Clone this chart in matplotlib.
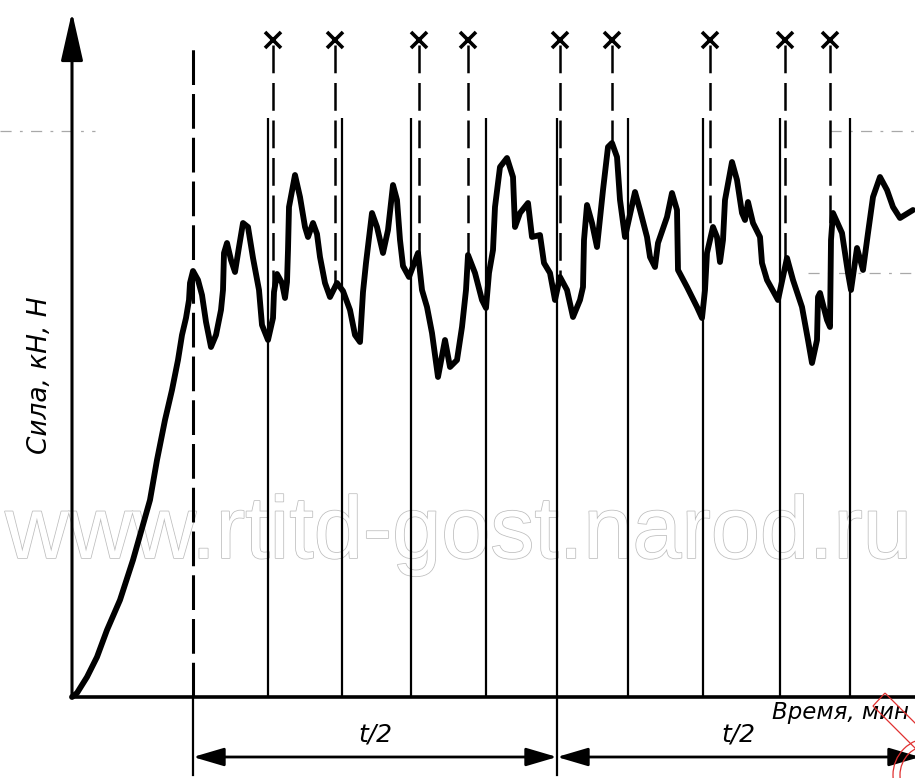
import numpy as np
import matplotlib
matplotlib.use("Agg")
import matplotlib.pyplot as plt
from matplotlib.patches import FancyArrowPatch, Circle, Polygon
import matplotlib.patheffects as pe

plt.rcParams["lines.scale_dashes"] = False

# ---- data (time, force in drawing units) ----
time = [0.0, 0.5, 1.5, 2.5, 3.5, 4.8, 6.1, 7.8, 8.5, 9.3, 10.0, 10.6, 11.0, 11.4, 11.7, 11.8,
        12.1, 12.6, 13.0, 13.4, 13.9, 14.4, 14.9, 15.1, 15.2, 15.5, 15.9, 16.3, 16.7, 17.1,
        17.6, 18.1, 18.7, 19.0, 19.6, 20.1, 20.2, 20.5, 21.0, 21.3, 21.5, 21.6, 21.7, 22.3,
        22.8, 23.3, 23.6, 24.1, 24.5, 24.8, 25.3, 25.8, 26.5, 27.1, 27.8, 28.3, 28.8, 29.1,
        29.4, 30.0, 30.5, 31.1, 31.6, 32.1, 32.5, 32.8, 33.1, 33.7, 34.6, 35.0, 35.5, 36.0,
        36.6, 37.3, 37.8, 38.5, 39.0, 39.4, 39.6, 40.3, 41.0, 41.4, 41.7, 42.1, 42.3, 42.8,
        43.5, 44.1, 44.3, 44.8, 45.6, 46.0, 46.8, 47.2, 47.8, 48.3, 48.8, 49.5, 50.1, 50.8,
        51.1, 51.2, 51.5, 52.0, 52.5, 53.1, 53.3, 53.6, 54.0, 54.5, 54.8, 55.3, 56.3, 56.8,
        57.5, 57.8, 58.3, 58.6, 59.5, 60.0, 60.5, 60.6, 61.5, 62.5, 63.0, 63.3, 63.5, 64.1,
        64.5, 64.8, 65.1, 65.3, 66.0, 66.5, 67.0, 67.3, 67.6, 68.1, 68.8, 69.0, 69.5, 70.6,
        71.5, 72.1, 73.0, 73.6, 74.0, 74.5, 74.6, 74.8, 75.5, 75.8, 75.9, 76.1, 77.0, 77.6,
        77.9, 78.5, 79.1, 79.6, 80.1, 80.8, 81.5, 82.1, 82.8, 84.1]
force = [0.0, 0.4, 2.0, 4.0, 6.7, 9.7, 13.7, 19.7, 23.7, 27.7, 30.7, 33.7, 36.2, 37.9, 39.7, 41.4,
         42.6, 41.7, 40.2, 37.5, 35.0, 36.2, 38.7, 40.7, 44.4, 45.4, 43.7, 42.5, 45.0, 47.4,
         47.0, 43.9, 40.7, 37.2, 35.7, 37.9, 40.5, 42.3, 41.4, 39.9, 41.5, 44.7, 49.0, 52.2,
         50.0, 47.0, 46.0, 47.4, 46.3, 44.0, 41.4, 40.0, 41.4, 40.6, 38.7, 36.2, 35.5, 40.5,
         43.4, 48.4, 47.0, 44.4, 46.7, 51.2, 49.7, 45.7, 43.1, 42.0, 44.4, 40.7, 39.0, 36.4,
         32.0, 35.7, 33.0, 33.7, 37.0, 40.7, 44.2, 42.4, 39.7, 38.9, 42.4, 44.7, 49.0, 53.0,
         53.9, 52.0, 47.0, 48.4, 49.4, 46.0, 46.2, 43.4, 42.4, 39.7, 42.0, 40.7, 38.0, 39.7,
         41.0, 45.7, 49.2, 47.4, 45.0, 50.7, 52.4, 55.0, 55.4, 54.0, 49.7, 46.0, 50.5, 48.7,
         46.0, 44.0, 43.0, 45.4, 48.0, 50.4, 48.7, 42.7, 41.0, 39.0, 37.9, 40.7, 44.4, 47.0,
         46.0, 43.5, 45.7, 49.7, 53.5, 51.7, 48.4, 47.7, 49.5, 47.4, 46.0, 43.4, 41.7, 39.7,
         43.9, 41.7, 39.0, 35.7, 33.4, 35.7, 40.0, 40.4, 37.7, 37.0, 45.7, 48.4, 46.4, 42.4,
         40.7, 44.9, 42.7, 46.4, 50.0, 52.0, 50.7, 49.0, 47.9, 48.7]

grid_times = [19.6, 27.0, 33.9, 41.4, 48.5, 55.6, 63.1, 70.8, 77.8]
mark_times = [20.1, 26.3, 34.7, 39.6, 48.8, 54.0, 63.8, 71.3, 75.8]
t_start = 12.1
t_mid = 48.5
t_end = 84.8

half_label = "t/2"
x_label = "Время, мин"
y_label = "Сила, кН, Н"
watermark = "www.rtitd-gost.narod.ru"

# ---- figure ----
fig = plt.figure(figsize=(9.15, 7.78), dpi=100)
ax = fig.add_axes([0, 0, 1, 1])
ax.set_xlim(-7.2, 84.3)
ax.set_ylim(-8.1, 69.7)
ax.axis("off")

# watermark
ax.text(38.7, 13.9, watermark, ha="center", va="baseline", fontsize=63.5,
        family="Liberation Sans", color="white", zorder=0,
        path_effects=[pe.Stroke(linewidth=1.1, foreground="#bdbdbd"), pe.Normal()])

# faint dash-dot artifacts
for (x0, x1, yy) in [(-7.2, 2.3, 56.6), (75.8, 84.3, 56.6), (73.6, 84.3, 42.4)]:
    ax.plot([x0, x1], [yy, yy], color="#a8a8a8", lw=0.9, dashes=(8, 6, 2, 6), zorder=1)

# solid vertical lines
ax.vlines(grid_times, 0, 57.9, color="black", lw=1.6, zorder=2)

# start dashed line and extension lines
ax.plot([t_start, t_start], [0, 65.0], color="black", lw=2.2, dashes=(25, 6.5), zorder=2)
ax.plot([t_start, t_start], [0, -7.8], color="black", lw=1.6, zorder=2)
ax.plot([t_mid, t_mid], [0, -7.8], color="black", lw=1.6, zorder=2)

# marker lines with crosses
for tm in mark_times:
    y_end = np.interp(tm, time, force)
    ax.plot([tm, tm], [65.2, y_end], color="black", lw=1.8, dashes=(20, 7), zorder=2)
ax.plot(mark_times, [65.7] * len(mark_times), linestyle="none", marker="x",
        markersize=11, mew=2.6, color="black", zorder=3)

# curve
ax.plot(time, force, color="black", lw=4.2, solid_joinstyle="round",
        solid_capstyle="round", zorder=5)

# axes
ax.plot([0, 84.3], [0, 0], color="black", lw=2.6, solid_capstyle="round", zorder=4)
ax.add_patch(FancyArrowPatch((0, 0), (0, 68.5), arrowstyle="-|>,head_length=1.5,head_width=0.34",
                             mutation_scale=20, lw=2.2, color="black", shrinkA=0, shrinkB=0, zorder=4))

# dimension arrows
for a, b in [(t_start, t_mid), (t_mid, t_end)]:
    ax.add_patch(FancyArrowPatch((a, -6.0), (b, -6.0),
                                 arrowstyle="<|-|>,head_length=0.95,head_width=0.28",
                                 mutation_scale=20, lw=2.0, color="black",
                                 shrinkA=0, shrinkB=0, zorder=4))

# labels
ax.text((t_start + t_mid) / 2, -3.8, half_label, ha="center", va="center",
        fontsize=18, style="italic", family="DejaVu Sans")
ax.text((t_mid + t_end) / 2, -3.8, half_label, ha="center", va="center",
        fontsize=18, style="italic", family="DejaVu Sans")
ax.text(76.8, -1.6, x_label, ha="center", va="center", fontsize=16.5,
        style="italic", family="DejaVu Sans")
ax.text(-3.2, 32.2, y_label, ha="center", va="center", fontsize=19,
        style="italic", family="DejaVu Sans", rotation=90)

# red stamp fragment
ax.add_patch(Circle((85.8, -7.8), 3.7, fill=False, edgecolor="#e03030", lw=0.9, zorder=6))
ax.add_patch(Circle((85.8, -7.8), 3.0, fill=False, edgecolor="#e03030", lw=0.9, zorder=6))
ax.add_patch(Polygon([(81.3, 0.4), (80.1, -0.9), (88.1, -8.9), (89.3, -7.6)], closed=True,
                     fill=False, edgecolor="#e03030", lw=0.9, zorder=6))

fig.savefig("out.png", dpi=100)
